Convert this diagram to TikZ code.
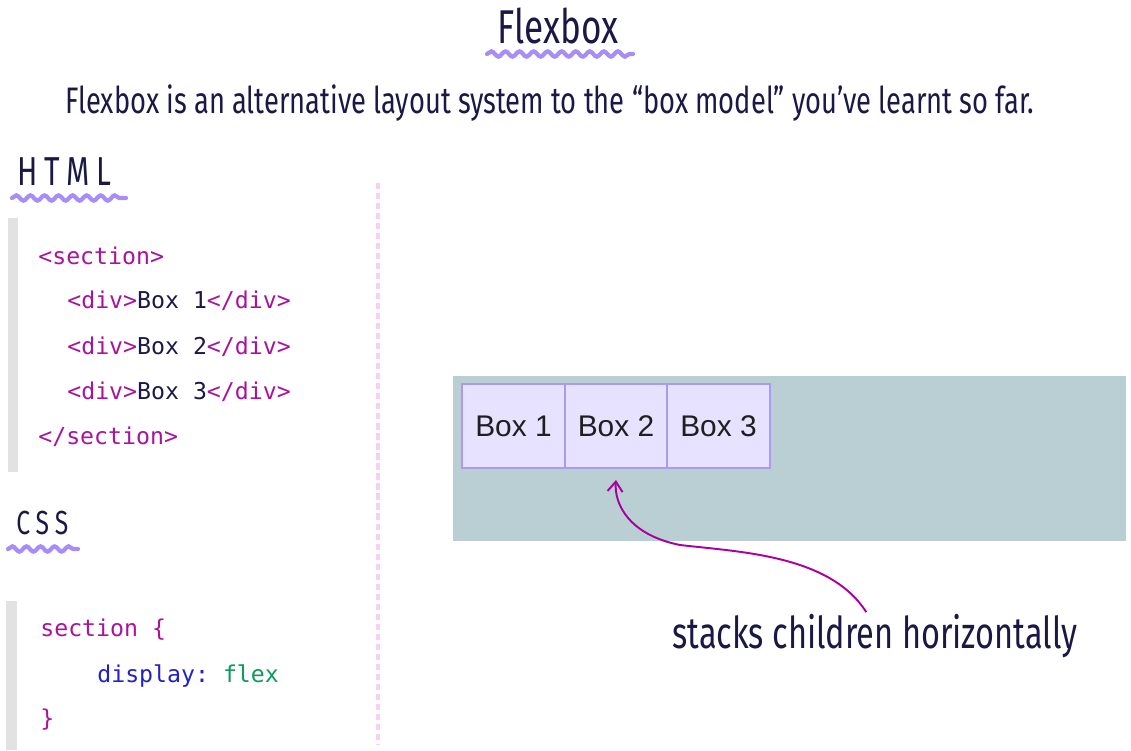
\documentclass[tikz,border=0pt]{standalone}
\usepackage{fontspec}
\setmainfont{Liberation Sans}
\setmonofont{DejaVu Sans Mono}
\newfontfamily\hand[FakeStretch=0.74]{Fira Sans}
\usepackage{xcolor}
\usetikzlibrary{positioning, arrows.meta, decorations.pathmorphing}
\definecolor{ink}{HTML}{1C1846}
\definecolor{wavecol}{HTML}{A88DF6}
\definecolor{tagcol}{HTML}{A8139C}
\definecolor{propcol}{HTML}{2121C8}
\definecolor{valcol}{HTML}{0E9A5C}
\definecolor{barcol}{HTML}{E2E2E2}
\definecolor{pinkline}{HTML}{F8D0F2}
\definecolor{flexbg}{HTML}{B9CFD4}
\definecolor{boxfill}{HTML}{E6E2FF}
\definecolor{boxline}{HTML}{AA9BF0}
\definecolor{arrowcol}{HTML}{AA00A0}

\begin{document}
\begin{tikzpicture}[
  x=0.02cm, y=-0.02cm,
  heading/.style={font=\hand\fontsize{20}{24}\selectfont, text=ink, inner sep=0pt},
  wave/.style={draw=wavecol, line width=2.4pt, line cap=round,
               decorate, decoration={snake, amplitude=1.5pt, segment length=8pt}},
  code/.style={anchor=west, font=\ttfamily\fontsize{13.2}{15}\selectfont, inner sep=0pt},
  flexbox/.style={draw=boxline, line width=0.9pt, fill=boxfill, outer sep=0pt,
                  minimum width=2.05cm, minimum height=1.68cm,
                  font=\fontsize{17}{20}\selectfont, text=black!88},
  arrow/.style={-{Straight Barb[length=2mm, width=3mm]}, draw=arrowcol, line width=1.1pt}
]
  \useasboundingbox (0,0) rectangle (1131,750);

  % titles
  \node[heading, font=\hand\fontsize{27}{32}\selectfont] (title) at (558,26) {Flexbox};
  \draw[wave] (487,54) -- (633,54);
  \node[heading, font=\hand\fontsize{21}{26}\selectfont, anchor=west] (intro) at (65,103)
    {Flexbox is an alternative layout system to the “box model” you’ve learnt so far.};

  % divider
  \draw[pinkline, line width=2.3pt, dash pattern=on 3.5pt off 2.2pt] (378,183) -- (378,745);

  % HTML column
  \node[heading, anchor=west, font=\hand\fontsize{23}{27}\selectfont] (html) at (17,172) {H\,T\,M\,L};
  \draw[wave] (12,198) -- (126,198);
  \fill[barcol] (8,218) rectangle (18,472);
  \node[code, text=tagcol] (sec) at (38,256) {<section>};
  \foreach \i/\y in {1/301, 2/347, 3/392}
    \node[code] (div\i) at (67,\y) {\textcolor{tagcol}{<div>}\textcolor{ink}{Box \i}\textcolor{tagcol}{</div>}};
  \node[code, text=tagcol] (secend) at (38,437) {</section>};

  % CSS column
  \node[heading, anchor=west, font=\hand\fontsize{19}{22}\selectfont] (css) at (16,523) {C\,S\,S};
  \draw[wave] (8,549) -- (78,549);
  \fill[barcol] (6,601) rectangle (17,750);
  \node[code, text=tagcol] (sel) at (40,630) {section \{};
  \node[code] (decl) at (97,676) {\textcolor{propcol}{display:} \textcolor{valcol}{flex}};
  \node[code, text=tagcol] (close) at (40,720) {\}};

  % flex container
  \fill[flexbg] (453,376) rectangle (1126,541);
  \node[flexbox] (box1) at (513.5,426) {Box 1};
  \node[flexbox, right=0pt of box1] (box2) {Box 2};
  \node[flexbox, right=0pt of box2] (box3) {Box 3};

  % annotation
  \node[heading, font=\hand\fontsize{25}{30}\selectfont] (note) at (875,636) {stacks children horizontally};
  \draw[arrow] ([xshift=-5pt, yshift=1pt]note.north)
    .. controls (830,555) and (740,552) .. (680,545)
    .. controls (630,535) and (614,505) .. ([yshift=-6.8pt]box2.south);
\end{tikzpicture}
\end{document}
